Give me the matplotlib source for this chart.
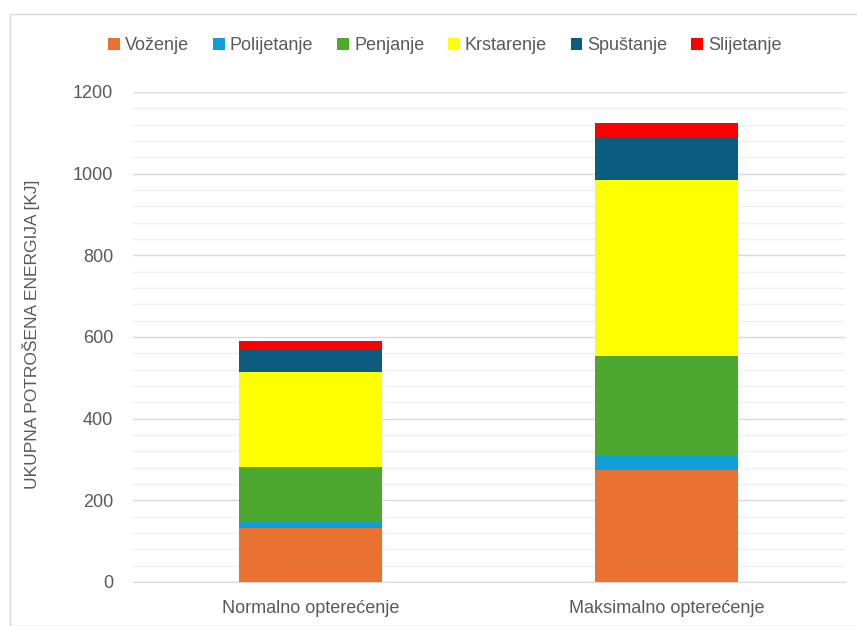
import matplotlib.pyplot as plt
from matplotlib.patches import Rectangle
from matplotlib.ticker import MultipleLocator

plt.rcParams['font.family'] = ['Liberation Sans', 'DejaVu Sans']

categories = ['Normalno opterećenje', 'Maksimalno opterećenje']
faze = ['Voženje', 'Polijetanje', 'Penjanje', 'Krstarenje', 'Spuštanje', 'Slijetanje']
vozenje = [132, 274]
polijetanje = [16, 35]
penjanje = [133, 245]
krstarenje = [233, 431]
spustanje = [57, 105]
slijetanje = [18, 34]
boje = ['#e97132', '#0f9ed5', '#4ea72e', '#ffff00', '#0b5c7e', '#ff0000']

serije = [vozenje, polijetanje, penjanje, krstarenje, spustanje, slijetanje]

fig = plt.figure(figsize=(8.57, 6.26), dpi=100)
fig.patches.append(Rectangle((10/857, 0), 1, 1 - 14/626, transform=fig.transFigure,
                             fill=False, edgecolor='#d9d9d9', linewidth=1))
ax = fig.add_axes([132.5/857, 1 - 582/626, 712/857, 490/626])

x = range(len(categories))
bottom = [0, 0]
for naziv, vals, c in zip(faze, serije, boje):
    ax.bar(x, vals, 0.4, bottom=bottom, color=c, label=naziv, zorder=3)
    bottom = [b + v for b, v in zip(bottom, vals)]

ax.set_xlim(-0.5, 1.5)
ax.set_ylim(0, 1200)
ax.yaxis.set_major_locator(MultipleLocator(200))
ax.yaxis.set_minor_locator(MultipleLocator(40))
ax.grid(axis='y', which='major', color='#d9d9d9', linewidth=1, zorder=0)
ax.grid(axis='y', which='minor', color='#f0f0f0', linewidth=1, zorder=0)
for s in ['top', 'right', 'left']:
    ax.spines[s].set_visible(False)
ax.spines['bottom'].set_color('#d9d9d9')
ax.tick_params(axis='both', which='both', length=0, labelsize=13, colors='#595959')
ax.tick_params(axis='x', pad=13)
ax.tick_params(axis='y', pad=14)
ax.set_xticks(list(x))
ax.set_xticklabels(categories)
ax.set_ylabel('UKUPNA POTROŠENA ENERGIJA [KJ]', fontsize=12.5, color='#595959')
ax.yaxis.set_label_coords(-0.13, 0.505)

leg = ax.legend(loc='center', bbox_to_anchor=(445/857, 1 - 46/626), bbox_transform=fig.transFigure,
                ncol=6, frameon=False, fontsize=13, handlelength=0.65, handleheight=0.65,
                handletextpad=0.3, columnspacing=1.3)
for t in leg.get_texts():
    t.set_color('#595959')

fig.savefig('out.png', dpi=100)
